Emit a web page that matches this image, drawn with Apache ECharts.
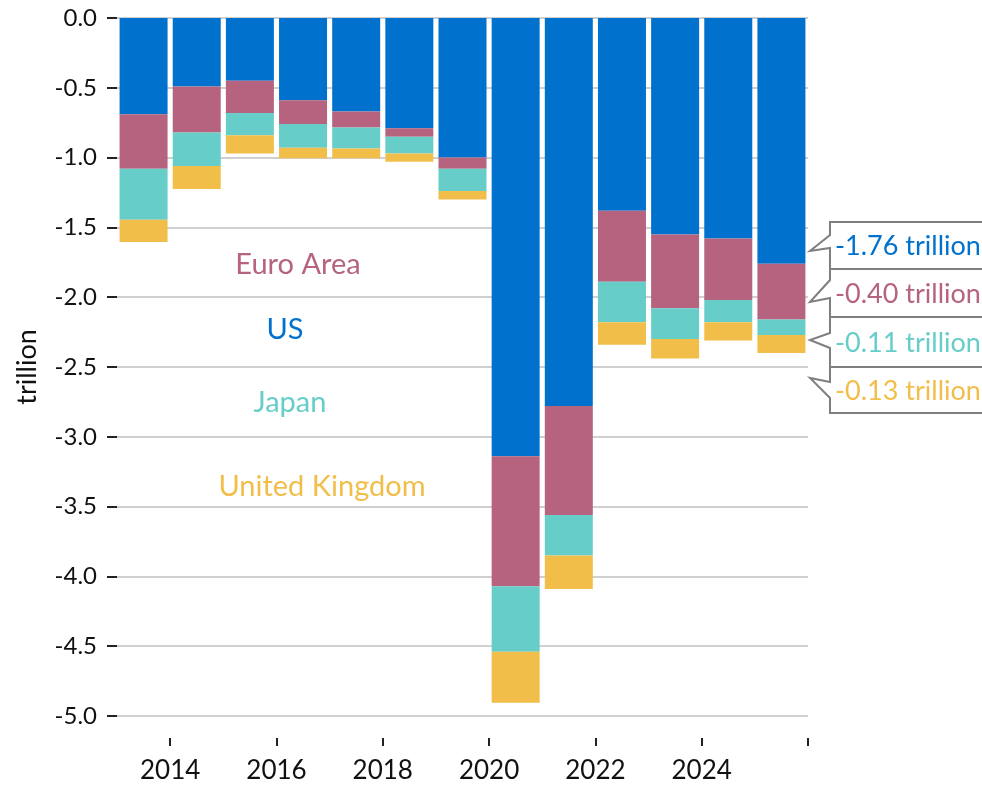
<!DOCTYPE html>
<html>
<head>
<meta charset="utf-8">
<script src="https://cdn.jsdelivr.net/npm/echarts@6/dist/echarts.min.js"></script>
<style>
  html, body { margin: 0; padding: 0; background: #fff; }
  #main { width: 982px; height: 785px; }
</style>
</head>
<body>
<div id="main"></div>
<script>
// one bar per year, each bar fills the band from Jan to Dec
const years = ['2013', '2014', '2015', '2016', '2017', '2018', '2019', '2020', '2021', '2022', '2023', '2024', '2025'];
// values in trillion
const us    = [-0.69, -0.49, -0.45, -0.59, -0.67, -0.79, -1.00, -3.14, -2.78, -1.38, -1.55, -1.58, -1.76];
const euro  = [-0.39, -0.33, -0.23, -0.17, -0.115, -0.06, -0.08, -0.93, -0.78, -0.51, -0.53, -0.44, -0.40];
const japan = [-0.365, -0.24, -0.16, -0.17, -0.15, -0.12, -0.16, -0.47, -0.29, -0.29, -0.22, -0.16, -0.11];
const uk    = [-0.16, -0.165, -0.13, -0.075, -0.07, -0.06, -0.06, -0.365, -0.24, -0.16, -0.14, -0.13, -0.13];
const xTickYears = [2014, 2016, 2018, 2020, 2022, 2024, 2026];
const xLabelYears = [2014, 2016, 2018, 2020, 2022, 2024];

const FONT = 'Lato';
const colors = { us: '#0072CE', euro: '#B5637F', japan: '#66CDC8', uk: '#F2BE4A' };

let myChart = echarts.init(document.getElementById('main'));

function mkSeries(name, vals, color) {
  return {
    name: name,
    type: 'bar',
    stack: 'total',
    xAxisIndex: 0,
    barWidth: 48,
    itemStyle: { color: color },
    data: vals
  };
}

// callout boxes on the right (box top/bottom, tail joins, tail tip)
const callouts = [
  { vals: us,    color: colors.us,    top: 222, bot: 269, j1: 235, tip: 251, j2: 248 },
  { vals: euro,  color: colors.euro,  top: 269, bot: 317, j1: 280, tip: 302, j2: 298 },
  { vals: japan, color: colors.japan, top: 317, bot: 367, j1: 333, tip: 340, j2: 348 },
  { vals: uk,    color: colors.uk,    top: 367, bot: 413, j1: 382, tip: 378, j2: 398 }
];
let graphics = [];
callouts.forEach(c => {
  graphics.push({
    type: 'polygon',
    shape: { points: [[830, c.top], [1000, c.top], [1000, c.bot], [830, c.bot], [830, c.j2], [810, c.tip], [830, c.j1]] },
    style: { fill: '#fff', stroke: '#7f7f7f', lineWidth: 2 },
    z: 10
  });
  let last = c.vals[c.vals.length - 1];
  graphics.push({
    type: 'text',
    x: 835, y: (c.top + c.bot) / 2 + 1,
    style: { text: last.toFixed(2) + ' trillion', fill: c.color, font: '27px ' + FONT, verticalAlign: 'middle' },
    z: 11
  });
});
// legend words inside the plot
[['Euro Area', colors.euro, 298, 265], ['US', colors.us, 285, 330], ['Japan', colors.japan, 290, 403], ['United Kingdom', colors.uk, 322, 487]]
  .forEach(t => graphics.push({
    type: 'text', x: t[2], y: t[3],
    style: { text: t[0], fill: t[1], font: '29px ' + FONT, align: 'center', verticalAlign: 'middle' },
    z: 10
  }));

let option = {
  animation: false,
  textStyle: { fontFamily: FONT },
  grid: { left: 117, right: 174, top: 18, bottom: 69, containLabel: false },
  xAxis: [
    {
      // bars
      type: 'category',
      data: years,
      boundaryGap: true,
      show: false
    },
    {
      // year ticks sit on the band edges
      type: 'value',
      min: 2013,
      max: 2026,
      position: 'bottom',
      offset: 22,
      axisLine: { show: false },
      splitLine: { show: false },
      axisTick: { show: true, length: 8, customValues: xTickYears, lineStyle: { color: '#222', width: 2 } },
      axisLabel: { customValues: xLabelYears, fontSize: 26, color: '#111', margin: 20, formatter: v => String(v) }
    }
  ],
  yAxis: {
    type: 'value',
    min: -5,
    max: 0,
    interval: 0.5,
    name: 'trillion',
    nameLocation: 'middle',
    nameGap: 76,
    nameRotate: 90,
    nameTextStyle: { fontSize: 27, color: '#111' },
    axisLine: { show: false },
    axisTick: { show: true, length: 10, lineStyle: { color: '#222', width: 2 } },
    axisLabel: { fontSize: 24, color: '#111', margin: 20, formatter: v => v.toFixed(1) },
    splitLine: { lineStyle: { color: '#d0d0d0', width: 2 } }
  },
  series: [
    mkSeries('US', us, colors.us),
    mkSeries('Euro Area', euro, colors.euro),
    mkSeries('Japan', japan, colors.japan),
    mkSeries('United Kingdom', uk, colors.uk)
  ],
  graphic: graphics
};
myChart.setOption(option);
</script>
</body>
</html>
